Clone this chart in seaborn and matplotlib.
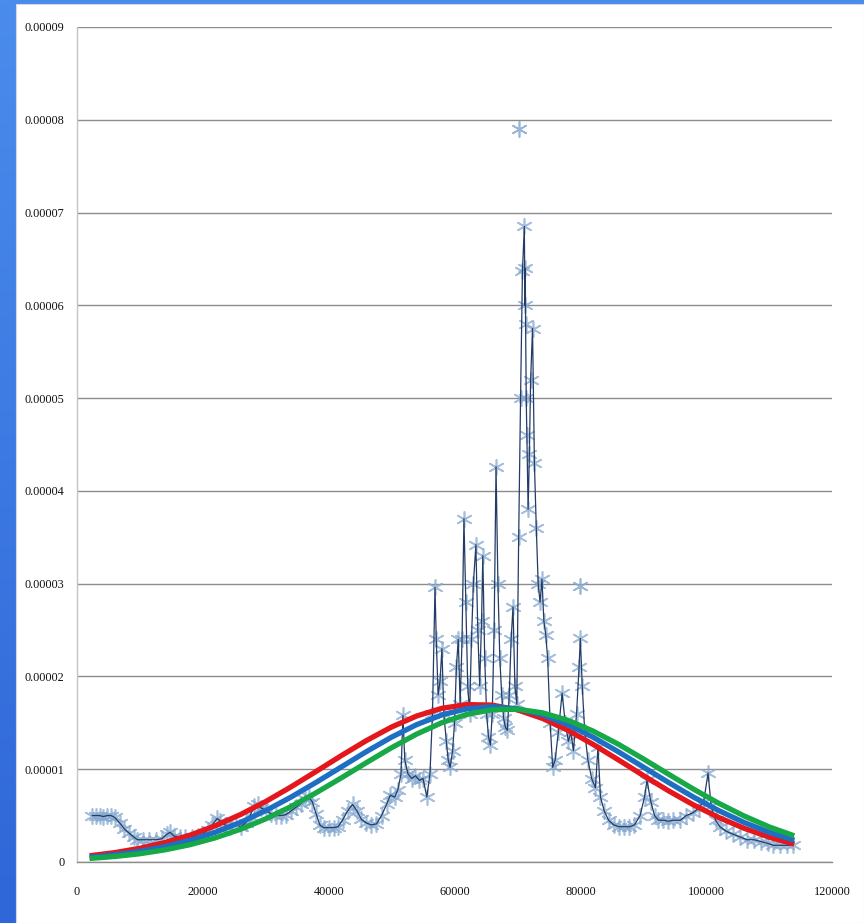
import numpy as np
import pandas as pd
import matplotlib
matplotlib.use("Agg")
import matplotlib.pyplot as plt
from matplotlib.patches import Rectangle
from matplotlib.ticker import FixedLocator, FixedFormatter
import seaborn as sns

# ---- observed salary density (x in thousands, density in units of 1e-5) ----
salary_k = [
    2.4, 3.0, 3.6, 4.2, 4.8, 5.4, 6.0, 6.8, 7.5, 8.3, 9.0, 9.6, 10.5, 11.5, 12.5,
    13.5, 14.3, 14.8, 15.4, 16.3, 17.2, 18.2, 19.2, 20.0, 20.8, 21.5, 22.3, 22.8,
    23.5, 24.3, 25.2, 26.0, 26.8, 27.5, 28.2, 28.7, 29.3, 30.0, 30.8, 31.6, 32.4,
    33.2, 34.0, 34.8, 35.6, 36.3, 36.8, 37.4, 38.0, 38.6, 39.2, 40.0, 40.8, 41.5,
    42.2, 43.0, 43.8, 44.5, 45.2, 46.0, 46.8, 47.6, 48.4, 49.2, 49.8, 50.5, 51.0,
    51.5, 51.8, 52.1, 52.6, 53.2, 53.8, 54.4, 55.0, 55.6, 56.1, 56.5, 56.9, 57.1,
    57.4, 57.7, 58.0, 58.3, 58.7, 59.0, 59.3, 59.7, 60.0, 60.3, 60.6, 60.9, 61.2,
    61.5, 61.8, 62.1, 62.4, 62.7, 63.0, 63.4, 63.7, 64.0, 64.3, 64.5, 64.8, 65.1,
    65.4, 65.7, 66.0, 66.3, 66.6, 66.9, 67.2, 67.5, 67.8, 68.1, 68.4, 68.7, 69.0,
    69.3, 69.6, 69.9, 70.2, 70.5, 70.8, 71.1, 71.2, 71.25, 71.3, 71.4, 71.5, 71.7,
    71.9, 72.1, 72.4, 72.7, 73.0, 73.3, 73.6, 73.9, 74.2, 74.5, 74.8, 75.2, 75.6,
    76.0, 76.5, 77.1, 77.6, 78.1, 78.5, 78.9, 79.4, 79.8, 80.0, 80.3, 80.7, 81.2,
    81.8, 82.4, 82.8, 83.2, 83.8, 84.5, 85.3, 86.2, 87.0, 87.8, 88.6, 89.5, 90.2,
    90.6, 91.2, 91.8, 92.4, 93.2, 94.0, 94.8, 95.9, 96.8, 97.9, 98.8, 99.6, 100.3,
    100.8, 101.5, 102.2, 103.2, 104.3, 105.4, 106.5, 107.6, 108.7, 109.8, 110.7,
    111.8, 112.8, 113.8,
]
density_e5 = [
    0.50, 0.50, 0.50, 0.49, 0.50, 0.50, 0.48, 0.42, 0.36, 0.31, 0.27, 0.24, 0.24,
    0.24, 0.24, 0.25, 0.30, 0.32, 0.28, 0.27, 0.27, 0.27, 0.28, 0.30, 0.35, 0.40,
    0.47, 0.44, 0.40, 0.38, 0.41, 0.38, 0.42, 0.50, 0.60, 0.62, 0.58, 0.56, 0.52,
    0.50, 0.50, 0.51, 0.55, 0.59, 0.63, 0.68, 0.70, 0.65, 0.52, 0.40, 0.37, 0.37,
    0.37, 0.38, 0.45, 0.55, 0.62, 0.55, 0.46, 0.42, 0.40, 0.41, 0.50, 0.62, 0.72,
    0.70, 0.78, 0.95, 1.58, 1.10, 0.95, 0.90, 0.93, 0.88, 0.90, 0.70, 0.95, 1.60,
    2.96, 2.40, 1.80, 1.95, 2.30, 1.60, 1.30, 1.10, 1.02, 1.20, 1.50, 2.10, 2.40,
    1.70, 2.40, 3.70, 2.80, 1.90, 1.60, 2.40, 3.00, 3.42, 2.50, 1.90, 2.60, 3.30,
    2.20, 1.60, 1.35, 1.26, 1.60, 2.50, 4.26, 3.00, 2.20, 1.80, 1.55, 1.45, 1.42,
    1.80, 2.40, 2.75, 1.90, 1.70, 3.50, 5.00, 6.37, 6.85, 6.00, 6.40, 5.80, 5.00,
    4.60, 3.80, 4.40, 5.20, 5.75, 4.30, 3.60, 3.00, 2.80, 3.05, 2.60, 2.45, 2.20,
    1.50, 1.02, 1.10, 1.40, 1.82, 1.50, 1.30, 1.40, 1.20, 1.60, 2.10, 2.41, 1.90,
    1.40, 1.10, 0.90, 0.80, 1.24, 0.70, 0.55, 0.45, 0.40, 0.38, 0.38, 0.38, 0.40,
    0.50, 0.70, 0.88, 0.65, 0.50, 0.45, 0.45, 0.44, 0.45, 0.45, 0.50, 0.53, 0.58,
    0.65, 0.96, 0.60, 0.45, 0.38, 0.33, 0.30, 0.27, 0.24, 0.24, 0.22, 0.20, 0.18,
    0.18, 0.18, 0.18,
]
# stand-alone observations shown without a connecting line
outlier_salary_k = [70.3, 80.0]
outlier_density_e5 = [7.90, 2.97]

# ---- fitted normal curves (same units) ----
curve_salary_k = [2, 6, 10, 14, 18, 22, 26, 30, 34, 38, 42, 46, 50, 54, 58,
                  62, 66, 70, 74, 78, 82, 86, 90, 94, 98, 102, 106, 110, 114]
fit_red_e5 = [0.067, 0.101, 0.148, 0.210, 0.290, 0.391, 0.512, 0.652, 0.809,
              0.976, 1.146, 1.309, 1.455, 1.574, 1.657, 1.697, 1.691, 1.640,
              1.547, 1.421, 1.269, 1.103, 0.933, 0.768, 0.615, 0.480, 0.364,
              0.268, 0.193]
fit_blue_e5 = [0.051, 0.078, 0.115, 0.167, 0.234, 0.321, 0.427, 0.554, 0.699,
               0.858, 1.024, 1.190, 1.346, 1.481, 1.586, 1.652, 1.675, 1.652,
               1.586, 1.481, 1.346, 1.190, 1.024, 0.858, 0.699, 0.554, 0.427,
               0.321, 0.234]
fit_green_e5 = [0.038, 0.059, 0.089, 0.131, 0.187, 0.261, 0.353, 0.465, 0.597,
                0.746, 0.906, 1.071, 1.232, 1.379, 1.502, 1.592, 1.641, 1.647,
                1.608, 1.528, 1.412, 1.271, 1.112, 0.947, 0.785, 0.633, 0.497,
                0.379, 0.282]

y_ticks = [0, 1e-5, 2e-5, 3e-5, 4e-5, 5e-5, 6e-5, 7e-5, 8e-5, 9e-5]
y_tick_labels = ["0", "0.00001", "0.00002", "0.00003", "0.00004", "0.00005",
                 "0.00006", "0.00007", "0.00008", "0.00009"]
x_ticks = [0, 20000, 40000, 60000, 80000, 100000, 120000]
x_tick_labels = ["0", "20000", "40000", "60000", "80000", "100000", "120000"]

K, E5 = 1000.0, 1e-5
obs = pd.DataFrame({"salary": np.array(salary_k) * K,
                    "density": np.array(density_e5) * E5})
out = pd.DataFrame({"salary": np.array(outlier_salary_k) * K,
                    "density": np.array(outlier_density_e5) * E5})
fits = pd.DataFrame({"salary": np.array(curve_salary_k) * K,
                     "red": np.array(fit_red_e5) * E5,
                     "blue": np.array(fit_blue_e5) * E5,
                     "green": np.array(fit_green_e5) * E5})

sns.set_style("white")
plt.rcParams["font.family"] = ["Liberation Serif", "DejaVu Sans"]

W, H = 864, 923
fig = plt.figure(figsize=(W / 100, H / 100), dpi=100)

# slide-style blue frame with a white panel
bg = fig.add_axes([0, 0, 1, 1], zorder=-10)
grad = np.linspace(0, 1, 256).reshape(-1, 1)
cmap = matplotlib.colors.LinearSegmentedColormap.from_list(
    "frame", ["#4a8cec", "#2f66d8"])
bg.imshow(grad, aspect="auto", cmap=cmap, extent=[0, 1, 0, 1], origin="upper")
bg.add_patch(Rectangle((16 / W, 0), 1 - 16 / W, 1 - 4 / H,
                       facecolor="white", edgecolor="#d8d8d8", lw=0.8))
bg.set_xlim(0, 1)
bg.set_ylim(0, 1)
bg.axis("off")

ax = fig.add_axes([77 / W, 61 / H, 755 / W, 835 / H])
ax.set_facecolor("none")

# observed points (star markers) and connecting line
sns.scatterplot(data=obs, x="salary", y="density", ax=ax, marker=(6, 2, 0),
                s=120, color="#86a9cf", linewidth=1.2, alpha=0.75,
                legend=False, zorder=2)
sns.lineplot(data=obs, x="salary", y="density", ax=ax, sort=False,
             estimator=None, color="#223c66", lw=0.9, zorder=3)
sns.scatterplot(data=out, x="salary", y="density", ax=ax, marker=(6, 2, 0),
                s=120, color="#86a9cf", linewidth=1.2, alpha=0.85,
                legend=False, zorder=2)

# fitted normal curves
for col, c in [("red", "#e3171c"), ("blue", "#1e6ec4"), ("green", "#17a847")]:
    sns.lineplot(data=fits, x="salary", y=col, ax=ax, color=c, lw=3.8,
                 solid_capstyle="butt", zorder=4)

ax.set_xlim(0, 120000)
ax.set_ylim(0, 9e-5)
ax.yaxis.set_major_locator(FixedLocator(y_ticks))
ax.yaxis.set_major_formatter(FixedFormatter(y_tick_labels))
ax.xaxis.set_major_locator(FixedLocator(x_ticks))
ax.xaxis.set_major_formatter(FixedFormatter(x_tick_labels))
ax.set_xlabel("")
ax.set_ylabel("")

ax.grid(axis="y", color="#8c8c8c", lw=1.0)
ax.grid(axis="x", visible=False)
for side in ["top", "right"]:
    ax.spines[side].set_visible(False)
ax.spines["left"].set_color("#c4c4c4")
ax.spines["bottom"].set_color("#8c8c8c")
ax.spines["left"].set_linewidth(1.0)
ax.spines["bottom"].set_linewidth(1.0)
ax.tick_params(axis="both", which="major", length=4, width=0.8,
               color="#a0a0a0", labelsize=8.8, labelcolor="#111111")
ax.tick_params(axis="x", pad=13)
ax.tick_params(axis="y", pad=5)

fig.savefig("out.png", dpi=100)
